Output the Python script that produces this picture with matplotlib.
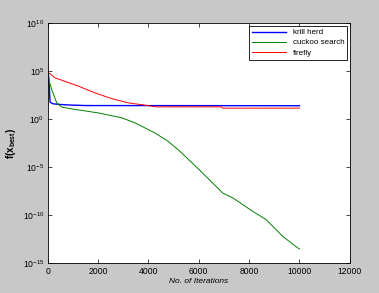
import matplotlib
matplotlib.use("Agg")
import matplotlib.pyplot as plt
from matplotlib.ticker import NullLocator

plt.rcParams['font.family'] = ['Liberation Sans', 'DejaVu Sans']
plt.rcParams['mathtext.fontset'] = 'custom'
plt.rcParams['mathtext.rm'] = 'Liberation Sans'
plt.rcParams['mathtext.bf'] = 'Liberation Sans:bold'

# values (best fitness vs iteration)
krill_iter = [0, 30, 60, 90, 200, 400, 800, 1500, 10000]
krill_val = [8e4, 4e4, 3e3, 6e1, 4e1, 3.5e1, 3e1, 2.6e1, 2.5e1]

cuckoo_iter = [0, 60, 180, 356, 554, 1000, 2000, 2930, 3460, 4250, 4780,
               5240, 6030, 6950, 7350, 8140, 8670, 9330, 9920, 10000]
cuckoo_val = [8e4, 8e3, 8e2, 5e1, 1.8e1, 1.1e1, 4.5, 1.4, 4.2e-1, 3.7e-2, 5e-3,
              4.7e-4, 5e-6, 2e-8, 6.3e-9, 2.5e-10, 3.5e-11, 6.3e-13, 4e-14, 3e-14]

firefly_iter = [0, 10, 290, 1210, 1870, 2530, 3190, 3850, 4300, 6900, 6950, 10000]
firefly_val = [4e5, 8e4, 2e4, 2.8e3, 5.5e2, 1.4e2, 5e1, 2.9e1, 1.9e1, 1.9e1, 1.4e1, 1.4e1]

x_ticks = [0, 2000, 4000, 6000, 8000, 10000, 12000]
y_ticks = [1e-15, 1e-10, 1e-5, 1e0, 1e5, 1e10]

fig = plt.figure(figsize=(3.79, 2.93), dpi=100, facecolor='#c8c8c8')
ax = fig.add_axes([0.126, 0.102, 0.797, 0.819])
ax.set_facecolor('white')

ax.semilogy(krill_iter, krill_val, color='#0000ff', lw=1.0, label='krill herd')
ax.semilogy(cuckoo_iter, cuckoo_val, color='#008000', lw=0.7, label='cuckoo search')
ax.semilogy(firefly_iter, firefly_val, color='#ff0000', lw=0.7, label='firefly')

ax.set_xlim(0, 12000)
ax.set_ylim(1e-15, 1e10)
ax.set_xticks(x_ticks)
ax.set_yticks(y_ticks)
ax.yaxis.set_minor_locator(NullLocator())
ax.tick_params(axis='both', which='both', direction='in', top=True, right=True,
               labelsize=6.2, length=3, width=0.5, pad=2.5)
for s in ax.spines.values():
    s.set_linewidth(0.6)

ax.set_xlabel('No. of Iterations', fontsize=6, style='italic', labelpad=2)
ax.set_ylabel(r'f(x$_{\mathbf{best}}$)', fontsize=7, fontweight='bold', labelpad=3)

leg = ax.legend(loc='upper right', fontsize=5.8, fancybox=False, frameon=True,
                edgecolor='black', framealpha=1, borderaxespad=0.3,
                handlelength=4.2, borderpad=0.4, labelspacing=0.3)
leg.get_frame().set_linewidth(0.6)

fig.savefig('out.png', dpi=100, facecolor=fig.get_facecolor())
